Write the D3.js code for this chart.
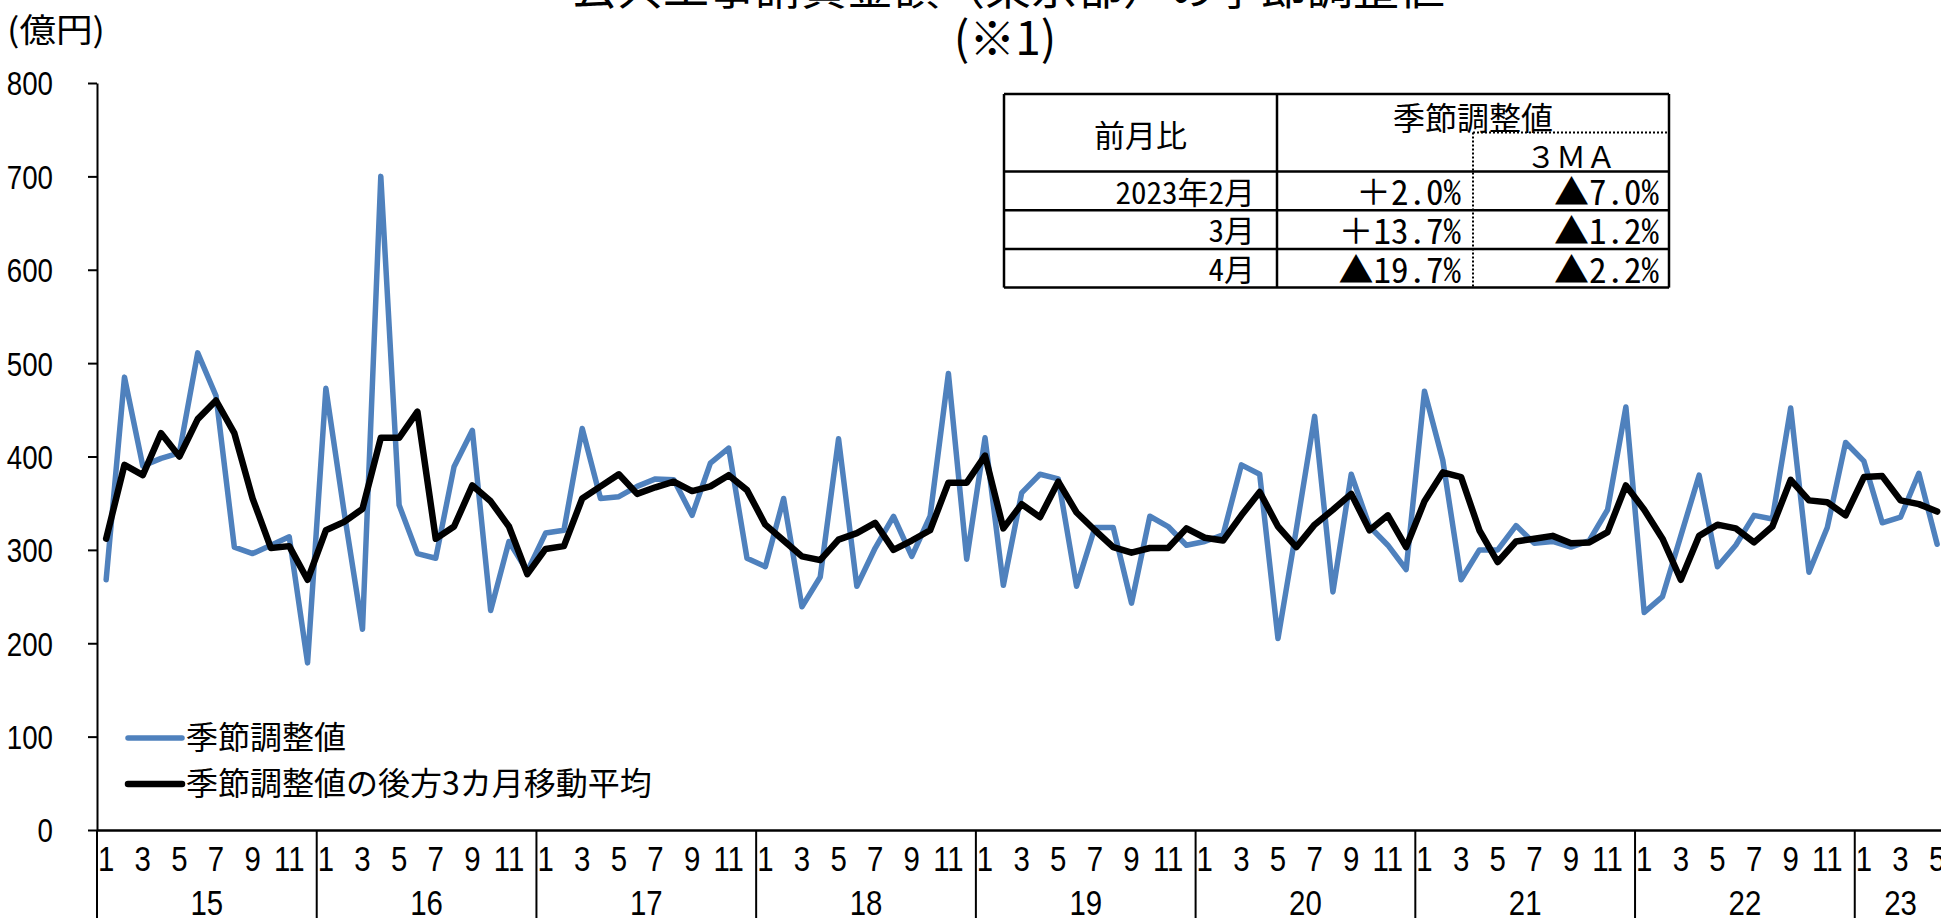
<!DOCTYPE html>
<html>
<head>
<meta charset="utf-8">
<script src="https://cdn.jsdelivr.net/npm/d3@7"></script>
<style>
  body { margin: 0; background: #fff; }
  svg { display: block; }
</style>
</head>
<body>
<svg id="chart"></svg>
<script>
// ---- data ----
const years = ["15", "16", "17", "18", "19", "20", "21", "22", "23"];
const monthLabels = [1, 3, 5, 7, 9, 11];
const yTicks = [0, 100, 200, 300, 400, 500, 600, 700, 800];

// 季節調整値 2015/1 ..
const seasonal = [
  268, 485, 390, 398, 404, 511, 465, 303, 296, 305, 314, 179,
  473, 340, 215, 700, 348, 296, 291, 389, 428, 235, 309, 277,
  318, 321, 430, 355, 357, 368, 376, 375, 337, 393, 409, 291,
  282, 355, 239, 271, 419, 261, 302, 336, 293, 336, 489, 290,
  420, 262, 361, 381, 376, 261, 324, 324, 243, 336, 325, 305,
  309, 316, 391, 381, 205, 322, 443, 255, 381, 325, 305, 279,
  470, 396, 268, 300, 300, 326, 307, 309, 303, 310, 343, 453,
  233, 250, 315, 380, 282, 305, 337, 333, 452, 276, 324, 415,
  395, 329, 335, 382, 306
];
// 季節調整値の後方3カ月移動平均
const ma3 = [
  312, 391, 380, 425, 400, 440, 460, 425, 355, 302, 304, 268,
  321, 330, 344, 420, 420, 448, 312, 325, 369, 352, 325, 274,
  301, 304, 355, 368, 381, 360, 367, 373, 363, 368, 380, 364,
  327, 310, 293, 289, 311, 318, 329, 300, 310, 321, 372, 372,
  401, 323, 349, 335, 373, 340, 321, 303, 297, 302, 302, 323,
  313, 310, 337, 362, 325, 303, 327, 343, 360, 321, 337, 303,
  352, 383, 378, 321, 287, 309, 312, 315, 307, 308, 319, 369,
  343, 312, 268, 315, 327, 323, 308, 325, 375, 353, 351, 337,
  378, 379, 353, 349, 341
];

const tableRows = ["2023年2月", "3月", "4月"];
const tableChg = ["＋2.0%", "＋13.7%", "▲19.7%"];
const tableMa = ["▲7.0%", "▲1.2%", "▲2.2%"];

// ---- setup ----
const W = 1941, H = 918;
const jpMono = '"Noto Sans Mono CJK JP", "Noto Sans CJK JP", sans-serif';
const jpSans = '"Noto Sans CJK JP", sans-serif';
const num = '"Liberation Sans", Arial, sans-serif';
const squeeze = 0.84;

const svg = d3.select("#chart").attr("width", W).attr("height", H);
svg.append("rect").attr("width", W).attr("height", H).attr("fill", "#fff");

const step = 18.31;
const x = d3.scaleBand()
  .domain(d3.range(seasonal.length))
  .range([97, 97 + step * seasonal.length]);
const y = d3.scaleLinear().domain([0, 800]).range([830, 83]);
const cx = i => x(i) + x.bandwidth() / 2;

// width of a string in a monospace japanese font (half width = 0.5em)
const monoWidth = (s, fs) => d3.sum([...s], c => c.charCodeAt(0) < 0x2000 ? 0.5 : 1) * fs;

// ---- y axis ----
const gy = svg.append("g")
  .attr("transform", "translate(97,0)")
  .call(d3.axisLeft(y).tickValues(yTicks).tickSize(9).tickSizeOuter(0));
gy.select(".domain").attr("stroke", "#000").attr("stroke-width", 2);
gy.selectAll(".tick line").attr("stroke", "#000").attr("stroke-width", 2);
gy.selectAll(".tick text")
  .attr("font-family", num).attr("font-size", 33).attr("fill", "#000")
  .attr("x", -44 / squeeze).attr("dy", "0.36em")
  .attr("transform", `scale(${squeeze},1)`);

// ---- x axis ----
const oddIdx = d3.range(seasonal.length).filter(i => (i % 12) % 2 === 0);
const gx = svg.append("g")
  .attr("transform", `translate(0,${y(0)})`)
  .call(d3.axisBottom(x).tickValues(oddIdx).tickFormat(i => monthLabels[(i % 12) / 2])
    .tickSize(0).tickSizeOuter(0));
gx.select(".domain").attr("stroke", "#000").attr("stroke-width", 2.5);
gx.selectAll(".tick text")
  .attr("font-family", num).attr("font-size", 35).attr("fill", "#000")
  .attr("y", 28).attr("dy", "0.36em")
  .attr("transform", `scale(${squeeze},1)`);

svg.append("g").selectAll("line")
  .data(years)
  .join("line")
  .attr("x1", (d, k) => x(k * 12)).attr("x2", (d, k) => x(k * 12))
  .attr("y1", y(0)).attr("y2", H)
  .attr("stroke", "#000").attr("stroke-width", 2);

svg.append("g").selectAll("text")
  .data(years)
  .join("text")
  .attr("transform", (d, k) => {
    const a = x(k * 12);
    const last = Math.min(k * 12 + 11, seasonal.length - 1);
    const b = x(last) + x.bandwidth();
    return `translate(${(a + b) / 2},902) scale(${squeeze},1)`;
  })
  .attr("text-anchor", "middle").attr("dy", "0.36em")
  .attr("font-family", num).attr("font-size", 35)
  .text(d => d);

// ---- lines ----
const line = d3.line().x((d, i) => cx(i)).y(d => y(d));
svg.append("path").datum(seasonal)
  .attr("d", line).attr("fill", "none")
  .attr("stroke", "#4F81BD").attr("stroke-width", 5.5)
  .attr("stroke-linejoin", "round").attr("stroke-linecap", "round");
svg.append("path").datum(ma3)
  .attr("d", line).attr("fill", "none")
  .attr("stroke", "#000").attr("stroke-width", 6.5)
  .attr("stroke-linejoin", "round").attr("stroke-linecap", "round");

// ---- legend ----
const legend = [
  { name: "季節調整値", color: "#4F81BD", w: 5.5 },
  { name: "季節調整値の後方3カ月移動平均", color: "#000", w: 6.5 }
];
const lg = svg.append("g").selectAll("g").data(legend).join("g")
  .attr("transform", (d, i) => `translate(128,${738 + i * 46})`);
lg.append("line").attr("x1", 0).attr("x2", 54)
  .attr("stroke", d => d.color).attr("stroke-width", d => d.w).attr("stroke-linecap", "round");
lg.append("text").attr("x", 58).attr("dy", "0.35em")
  .attr("font-family", jpSans).attr("font-size", 32)
  .text(d => d.name);

// ---- unit & title ----
svg.append("text").attr("x", 7).attr("y", 30).attr("dy", "0.35em")
  .attr("font-family", jpSans).attr("font-size", 33)
  .attr("textLength", 98).attr("lengthAdjust", "spacingAndGlyphs")
  .text("(億円)");

svg.append("text").attr("x", 1008).attr("y", -12).attr("dy", "0.35em")
  .attr("text-anchor", "middle")
  .attr("font-family", jpSans).attr("font-size", 46)
  .text("公共工事請負金額（東京都）の季節調整値");
svg.append("text").attr("x", 1005).attr("y", 39).attr("dy", "0.35em")
  .attr("text-anchor", "middle")
  .attr("font-family", jpSans).attr("font-size", 46)
  .text("(※1)");

// ---- table ----
const T = { l: 1004, r: 1669, t: 94, hb: 171.5, rh: 38.7, c1: 1277, c2: 1473, mid: 132.5 };
const tb = svg.append("g");
const rowLines = d3.range(tableRows.length + 1).map(k => T.hb + k * T.rh);
tb.selectAll(".hl").data([T.t, ...rowLines]).join("line")
  .attr("x1", T.l).attr("x2", T.r).attr("y1", d => d).attr("y2", d => d)
  .attr("stroke", "#000").attr("stroke-width", 2.5);
const bottom = rowLines[rowLines.length - 1];
tb.selectAll(".vl").data([T.l, T.c1, T.r]).join("line")
  .attr("x1", d => d).attr("x2", d => d).attr("y1", T.t).attr("y2", bottom)
  .attr("stroke", "#000").attr("stroke-width", 2.5);
tb.append("line").attr("x1", T.c2).attr("x2", T.c2).attr("y1", T.mid).attr("y2", bottom)
  .attr("stroke", "#000").attr("stroke-width", 2).attr("stroke-dasharray", "2,2");
tb.append("line").attr("x1", T.c2).attr("x2", T.r).attr("y1", T.mid).attr("y2", T.mid)
  .attr("stroke", "#000").attr("stroke-width", 2).attr("stroke-dasharray", "2,2");

function cell(txt, px, py, fs, anchor) {
  tb.append("text").attr("x", px).attr("y", py).attr("dy", "0.35em")
    .attr("text-anchor", anchor)
    .attr("font-family", jpMono).attr("font-size", fs)
    .attr("textLength", monoWidth(txt, fs)).attr("lengthAdjust", "spacingAndGlyphs")
    .text(txt);
}
cell("前月比", (T.l + T.c1) / 2, 136, 31, "middle");
cell("季節調整値", (T.c1 + T.r) / 2, 119, 32, "middle");
cell("３ＭＡ", (T.c2 + T.r) / 2, 157, 30, "middle");
tableRows.forEach((r, k) => {
  const py = T.hb + (k + 0.5) * T.rh + 2;
  cell(r, T.c1 - 22, py, 31, "end");
  cell(tableChg[k], T.c2 - 12, py, 35, "end");
  cell(tableMa[k], T.r - 10, py, 35, "end");
});
</script>
</body>
</html>
